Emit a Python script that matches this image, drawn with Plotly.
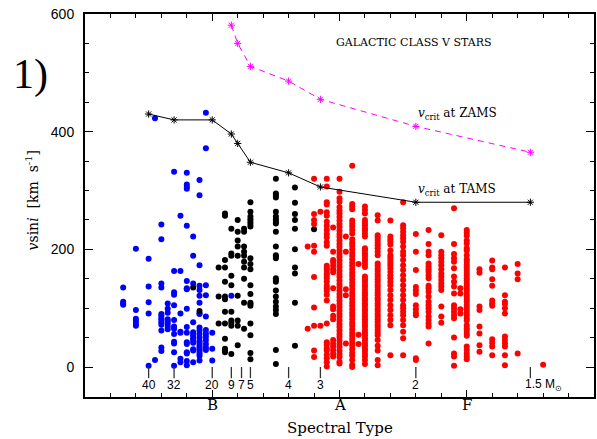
import plotly.graph_objects as go

# Spectral type numeric scale: O0=0, B0=10, A0=20, F0=30, G0=40
blue_cols = [3.0, 4.0, 5.0, 5.5, 6.0, 6.5, 7.0, 7.5, 8.0, 8.5, 9.0, 9.5, 10.0, 11.5]
blue_vals = [
    [135, 111, 108, 106],
    [201, 97, 82, 78, 74, 70],
    [184, 137, 110, 91, 2],
    [423, 12],
    [242, 217, 142, 135, 90, 87, 83, 80, 76, 72, 62, 33, 27],
    [108, 99, 92, 81, 78, 74, 69, 64],
    [332, 163, 127, 123, 105, 80, 69, 65, 56, 43, 40, 25, 2],
    [257, 163, 91, 60, 58, 14, 8],
    [330, 310, 306, 303, 240, 146, 134, 132, 99, 68, 58, 42, 39, 25, 23, 10, 3],
    [222, 189, 142, 76, 59, 56, 53, 49, 45, 41, 30, 28, 8],
    [318, 292, 173, 138, 131, 121, 109, 91, 90, 67, 62, 56, 50, 44, 41, 37, 33, 30, 27, 23, 19, 11],
    [432, 372, 139, 122, 86, 63, 57, 52, 46, 39, 33, 29],
    [58, 31, 11],
    [121],
]

black_cols = [8.5, 9.0, 10.5, 11.0, 11.5, 12.0, 12.5, 13.0, 15.0, 16.5, 18.0]
black_vals = [
    [135],
    [95],
    [169, 120, 74],
    [261, 257, 182, 169, 145, 120, 115, 94, 74, 48, 31, 28, 25],
    [235, 193, 189, 155, 139, 94, 79, 75, 70, 22],
    [250, 230, 215, 205, 189, 121, 79, 70, 37],
    [235, 230, 205, 196, 189, 179, 169, 150, 109, 65],
    [280, 264, 256, 251, 247, 243, 239, 185, 175, 166, 139, 124, 109, 107, 104, 74, 54, 24, 13],
    [320, 295, 292, 288, 264, 256, 251, 247, 244, 230, 205, 190, 188, 185, 151, 148, 145, 130,
     120, 111, 103, 97, 90, 29, 5],
    [305, 279, 260, 250, 235, 200, 169, 159, 109, 36],
    [234],
]

red_cols = [17.5, 18.0, 18.5, 19.0, 19.5, 20.0, 20.5, 21.0, 21.5, 22.0, 23.0, 24.0, 25.0, 26.0,
            27.0, 28.0, 29.0, 29.5, 30.0, 31.0, 32.0, 33.0, 34.0, 36.0]
red_vals = [
    [205, 65],
    [320, 260, 250, 243, 206, 196, 153, 101, 70, 28, 17],
    [264, 70],
    [320, 307, 280, 276, 263, 257, 247, 240, 233, 226, 220, 212, 206, 172, 168, 164, 159, 155,
     151, 145, 138, 134, 129, 123, 113, 74, 42, 38, 32, 28, 21, 15, 8, 1],
    [237, 196, 182, 178, 172, 166, 161, 134, 103, 98, 87, 81, 46, 40, 35, 29, 23, 18],
    [320, 298, 287, 281, 272, 266, 261, 255, 249, 243, 238, 232, 226, 221, 215, 209, 204, 198,
     192, 187, 181, 175, 170, 164, 158, 153, 147, 141, 136, 130, 124, 119, 113, 107, 102, 96,
     90, 85, 79, 73, 68, 62, 56, 51, 45, 39, 34, 28, 22, 17, 9, 6],
    [222, 196, 132, 122, 40],
    [342, 277, 273, 268, 249, 244, 239, 233, 227, 217, 211, 206, 200, 194, 189, 183, 177, 172,
     166, 160, 155, 149, 143, 138, 132, 126, 121, 115, 109, 104, 98, 92, 87, 81, 75, 70, 64,
     58, 53, 47, 41, 36, 30, 24, 19, 12, 4, 0],
    [175, 55, 39],
    [273, 267, 261, 250, 245, 241, 236, 232, 227, 222, 202, 198, 193, 189, 184, 180, 175, 170,
     154, 149, 145, 140, 136, 131, 126, 122, 117, 113, 108, 104, 99, 95, 90, 86, 81, 77, 72,
     68, 63, 58, 54, 49, 45, 40, 36, 31, 27, 22, 18, 12, 5],
    [258, 249, 224, 220, 216, 211, 207, 202, 196, 190, 176, 172, 167, 163, 158, 154, 149, 145,
     140, 136, 131, 126, 122, 117, 113, 108, 104, 99, 95, 90, 86, 81, 77, 72, 68, 63, 58, 54,
     46, 36, 28, 12, 3],
    [249, 222, 217, 213, 208, 198, 190, 186, 182, 177, 173, 168, 162, 156, 151, 145, 139, 131,
     122, 114, 105, 97, 88, 80, 71, 20],
    [280, 241, 236, 230, 224, 219, 213, 205, 196, 190, 182, 173, 165, 156, 148, 139, 131, 122,
     114, 105, 100, 94, 88, 80, 71, 60, 49, 20],
    [226, 196, 165, 136, 130, 124, 105, 98, 92, 88, 15, 12],
    [233, 209, 196, 190, 176, 171, 166, 162, 156, 151, 138, 134, 128, 120, 111, 105, 100, 94,
     86, 80, 74, 69, 40],
    [224, 196, 190, 185, 179, 173, 166, 159, 154, 148, 142, 137, 131, 103, 86, 75],
    [270, 209, 192, 185, 179, 168, 154, 145, 137, 125, 105, 100, 94, 88, 83, 50, 23, 18, 2],
    [134, 125, 98, 91],
    [233, 228, 223, 215, 210, 202, 198, 190, 183, 179, 174, 169, 165, 160, 156, 151, 147, 142,
     138, 133, 129, 124, 120, 115, 111, 106, 101, 97, 92, 88, 83, 79, 71, 66, 62, 57, 53, 35,
     29, 23, 18, 13],
    [166, 160, 103, 97, 69, 57, 37, 26],
    [181, 169, 166, 149, 138, 113, 108, 104, 47, 41, 35, 20],
    [169, 122, 111, 107, 100, 91, 52, 46, 40, 35, 20, 3],
    [175, 159, 149, 23],
    [4],
]

tams_x = [5.0, 7.0, 10.0, 11.5, 12.0, 13.0, 16.0, 18.5, 26.0, 35.0]
tams_v = [430, 420, 420, 396, 380, 348, 330, 306, 280, 280]

zams_x = [11.5, 12.0, 13.0, 16.0, 18.5, 26.0, 35.0]
zams_v = [581, 550, 511, 486, 455, 409, 365]

mass_x = [5.0, 7.0, 10.0, 11.5, 12.3, 13.0, 16.0, 18.5, 26.0, 35.0]
mass_labels = ["40", "32", "20", "9", "7", "5", "4", "3", "2", "1.5"]

class_ticks = [10, 20, 30]
class_labels = ["B", "A", "F"]


def flatten(cols, vals):
    xs, ys = [], []
    for c, vs in zip(cols, vals):
        for v in vs:
            xs.append(c)
            ys.append(v)
    return xs, ys


fig = go.Figure()
for cols, vals, col in [(blue_cols, blue_vals, "#0000ff"),
                        (black_cols, black_vals, "#000000"),
                        (red_cols, red_vals, "#ff0000")]:
    xs, ys = flatten(cols, vals)
    fig.add_trace(go.Scatter(x=xs, y=ys, mode="markers",
                             marker=dict(size=6, color=col, line=dict(width=0)),
                             showlegend=False, hoverinfo="skip"))

fig.add_trace(go.Scatter(x=tams_x, y=tams_v, mode="lines+markers",
                         line=dict(color="black", width=1),
                         marker=dict(symbol="asterisk-open", size=6,
                                     line=dict(color="black", width=1)),
                         showlegend=False))
fig.add_trace(go.Scatter(x=zams_x, y=zams_v, mode="lines+markers",
                         line=dict(color="#ff00ff", width=1, dash="6px,5px"),
                         marker=dict(symbol="asterisk-open", size=6,
                                     line=dict(color="#ff00ff", width=1)),
                         showlegend=False))

# mass tick marks along v=0
for mx in mass_x:
    fig.add_shape(type="line", xref="x", yref="y", x0=mx, x1=mx, y0=0, y1=-19,
                  line=dict(color="#333333", width=1.3))

annotations = []
for mx, lab in zip(mass_x, mass_labels):
    if lab == "1.5":
        continue
    annotations.append(dict(x=mx, y=-31, xref="x", yref="y", text=lab, showarrow=False,
                            xanchor="center", yanchor="middle",
                            font=dict(family="Liberation Sans, Arial", size=12, color="black")))
annotations.append(dict(x=mass_x[-1] - 0.55, y=-31, xref="x", yref="y",
                        text="1.5 M<sub>⊙</sub>", showarrow=False,
                        xanchor="left", yanchor="middle",
                        font=dict(family="Liberation Sans, Arial", size=12, color="black")))

for cx, cl in zip(class_ticks, class_labels):
    annotations.append(dict(x=cx, y=-0.022, xref="x", yref="paper", text=cl,
                            showarrow=False, xanchor="center", yanchor="middle",
                            font=dict(family="DejaVu Serif", size=15, color="black")))

annotations += [
    dict(x=0.646, y=0.925, xref="paper", yref="paper", text="GALACTIC CLASS V STARS",
         showarrow=False, xanchor="center", yanchor="middle",
         font=dict(family="DejaVu Serif", size=11, color="black")),
    dict(x=0.650, y=0.739, xref="paper", yref="paper",
         text="<i>v</i><sub>crit</sub> at ZAMS", showarrow=False,
         xanchor="left", yanchor="middle",
         font=dict(family="DejaVu Serif", size=12, color="black")),
    dict(x=0.650, y=0.540, xref="paper", yref="paper",
         text="<i>v</i><sub>crit</sub> at TAMS", showarrow=False,
         xanchor="left", yanchor="middle",
         font=dict(family="DejaVu Serif", size=12, color="black")),
    dict(x=0.5, y=-0.081, xref="paper", yref="paper", text="Spectral Type",
         showarrow=False, xanchor="center", yanchor="middle",
         font=dict(family="DejaVu Serif", size=15, color="black")),
    dict(x=-0.105, y=0.512, xref="paper", yref="paper",
         text="<i>v</i>sin<i>i</i>  [km  s<sup>-1</sup>]", textangle=-90,
         showarrow=False, xanchor="center", yanchor="middle",
         font=dict(family="DejaVu Serif", size=14, color="black")),
    dict(x=-0.107, y=0.841, xref="paper", yref="paper", text="1)",
         showarrow=False, xanchor="center", yanchor="middle",
         font=dict(family="Liberation Serif", size=42, color="black")),
]

fig.update_layout(
    width=597, height=439,
    margin=dict(l=85, r=1, t=14, b=42),
    paper_bgcolor="white", plot_bgcolor="white",
    annotations=annotations,
    xaxis=dict(range=[0, 40], tickvals=class_ticks, ticktext=["", "", ""],
               ticks="inside", ticklen=7, tickwidth=1.3, tickcolor="black",
               minor=dict(ticks="inside", ticklen=4, dtick=2, tick0=0,
                          tickcolor="black", tickwidth=1),
               showline=True, linewidth=2, linecolor="black", mirror="ticks",
               showgrid=False, zeroline=False,
               tickfont=dict(family="DejaVu Serif", size=14, color="black")),
    yaxis=dict(range=[-51, 600], tickvals=[0, 200, 400, 600],
               ticks="inside", ticklen=8, tickwidth=1.3, tickcolor="black",
               minor=dict(ticks="inside", ticklen=4, dtick=50, tick0=0,
                          tickcolor="black", tickwidth=1),
               showline=True, linewidth=2, linecolor="black", mirror="ticks",
               showgrid=False, zeroline=False, ticklabelstandoff=6,
               tickfont=dict(family="Liberation Sans, Arial", size=14, color="black")),
)

fig.write_html("out.html")
